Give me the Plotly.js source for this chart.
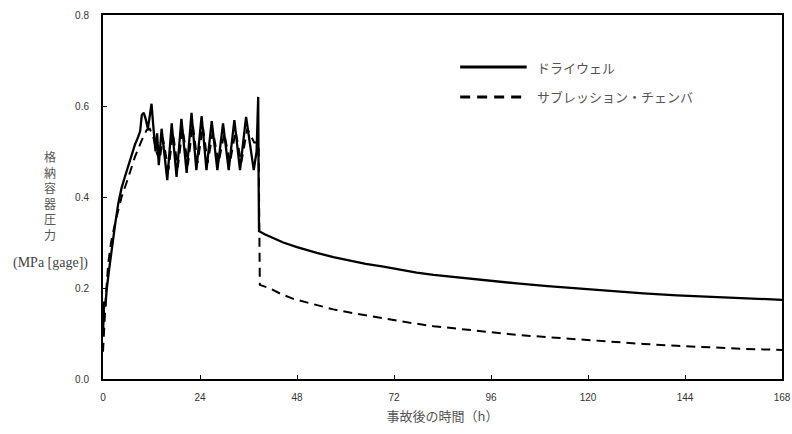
<!DOCTYPE html>
<html>
<head>
<meta charset="utf-8">
<script src="https://cdn.plot.ly/plotly-3.0.1.min.js"></script>
<style>html,body{margin:0;padding:0;background:#fff;}#chart{width:792px;height:434px;}</style>
</head>
<body>
<div id="chart"></div>
<script>
// Drywell (solid)
const timeDW = [0, 0.3, 0.6, 0.9, 1.5, 2.1, 3.0, 3.8, 4.6, 5.4, 6.3, 7.1, 7.9, 8.7, 9.2, 9.6, 10.1, 10.6, 11.1, 11.6, 12.0, 12.5, 13.0, 13.4, 13.8, 14.5,
  15.9, 17.0, 18.2, 19.4, 20.7, 21.9, 23.1, 24.4, 25.6, 26.9, 28.3, 29.7, 31.1, 32.5, 33.9, 35.4, 37.3, 38.0, 38.4, 38.5, 38.6,
  40.0, 42.6, 44.6, 48.0, 52.9, 57.0, 61.1, 65.0, 69.4, 73.5, 77.6, 81.8, 85.9, 90.0, 94.1, 102.4, 110.0, 117.2, 125.0, 133.7, 142.0, 150.2, 159.0, 168];
const pressureDW = [0.10, 0.17, 0.16, 0.196, 0.24, 0.283, 0.34, 0.387, 0.42, 0.444, 0.47, 0.497, 0.515, 0.532, 0.545, 0.58, 0.585, 0.57, 0.55, 0.58, 0.605, 0.55, 0.50, 0.54, 0.47, 0.55,
  0.437, 0.562, 0.444, 0.572, 0.453, 0.585, 0.459, 0.578, 0.459, 0.567, 0.459, 0.562, 0.459, 0.569, 0.459, 0.576, 0.459, 0.50, 0.62, 0.45, 0.325,
  0.318, 0.308, 0.300, 0.290, 0.277, 0.268, 0.260, 0.253, 0.247, 0.240, 0.234, 0.229, 0.225, 0.221, 0.218, 0.210, 0.204, 0.199, 0.194, 0.188, 0.184, 0.181, 0.177, 0.174];

// Suppression chamber (dashed)
const timeSC = [0, 0.3, 0.7, 1.3, 2.0, 3.0, 4.6, 6.3, 7.9, 9.6, 10.8, 11.6, 12.5, 13.2, 14.0, 14.8,
  16.2, 17.3, 18.5, 19.7, 21.0, 22.2, 23.4, 24.7, 25.9, 27.2, 28.6, 30.0, 31.4, 32.8, 34.2, 35.7, 37.4, 38.5, 38.6, 38.8,
  41.3, 44.0, 47.1, 52.0, 57.0, 63.0, 69.4, 75.6, 81.8, 88.0, 94.1, 102.4, 110.0, 117.2, 125.0, 133.7, 142.0, 150.2, 159.0, 168];
const pressureSC = [0.06, 0.12, 0.18, 0.255, 0.30, 0.343, 0.40, 0.444, 0.488, 0.525, 0.547, 0.55, 0.53, 0.50, 0.48, 0.53,
  0.46, 0.54, 0.465, 0.55, 0.47, 0.56, 0.475, 0.555, 0.475, 0.545, 0.475, 0.54, 0.475, 0.545, 0.475, 0.55, 0.52, 0.52, 0.305, 0.207,
  0.199, 0.187, 0.176, 0.164, 0.153, 0.143, 0.133, 0.124, 0.116, 0.110, 0.104, 0.097, 0.092, 0.087, 0.082, 0.077, 0.073, 0.069, 0.066, 0.064];

const seriesNames = ["ドライウェル", "サブレッション・チェンバ"];
const xTicks = [0, 24, 48, 72, 96, 120, 144, 168];
const yTicks = [0.0, 0.2, 0.4, 0.6, 0.8];
const yTitleChars = ["格", "納", "容", "器", "圧", "力"];
const yTitleUnit = "(MPa [gage])";
const xTitle = "事故後の時間（h）";

const traces = [
  {x: timeSC, y: pressureSC, type: "scatter", mode: "lines", name: seriesNames[1], showlegend: false,
   line: {color: "#000", width: 2, dash: "9px,6px"}},
  {x: timeDW, y: pressureDW, type: "scatter", mode: "lines", name: seriesNames[0], showlegend: false,
   line: {color: "#000", width: 2.3}}
];

const tickFont = {family: "Liberation Sans Narrow, Liberation Sans, Arial", size: 10, color: "#333"};
const textFont = {family: "Noto Sans CJK JP", size: 13, color: "#555"};

const layout = {
  width: 792, height: 434,
  margin: {l: 103, r: 10, t: 15, b: 55},
  paper_bgcolor: "#fff", plot_bgcolor: "#fff",
  showlegend: false,
  xaxis: {range: [0, 168], tickvals: xTicks, ticktext: xTicks.map(String), ticks: "inside", ticklen: 4,
    tickcolor: "#000", showline: true, linecolor: "#000", linewidth: 2, mirror: true, showgrid: false,
    zeroline: false, tickfont: tickFont, ticklabelstandoff: 8,
    title: {text: xTitle, font: textFont, standoff: 10}},
  yaxis: {range: [0, 0.8], tickvals: yTicks, ticktext: yTicks.map(v => v.toFixed(1)), ticks: "inside", ticklen: 4,
    tickcolor: "#000", showline: true, linecolor: "#000", linewidth: 2, mirror: true, showgrid: false,
    zeroline: false, tickfont: tickFont, ticklabelstandoff: 10},
  shapes: [
    {type: "line", xref: "paper", yref: "paper", x0: 0.526, x1: 0.624, y0: 0.857, y1: 0.857, line: {color: "#000", width: 3}},
    {type: "line", xref: "paper", yref: "paper", x0: 0.526, x1: 0.624, y0: 0.775, y1: 0.775, line: {color: "#000", width: 3, dash: "10px,7px"}}
  ],
  annotations: [
    {xref: "paper", yref: "paper", x: 0.636, y: 0.857, xanchor: "left", yanchor: "middle", text: seriesNames[0], showarrow: false, font: textFont},
    {xref: "paper", yref: "paper", x: 0.636, y: 0.775, xanchor: "left", yanchor: "middle", text: seriesNames[1], showarrow: false, font: textFont},
    {xref: "paper", yref: "paper", x: -0.078, y: 0.505, xanchor: "center", yanchor: "middle", text: yTitleChars.join("<br>"), showarrow: false,
     font: {family: "Noto Sans CJK JP", size: 12, color: "#555"}},
    {xref: "paper", yref: "paper", x: -0.078, y: 0.318, xanchor: "center", yanchor: "middle", text: yTitleUnit, showarrow: false,
     font: {family: "Liberation Serif, DejaVu Serif", size: 14, color: "#444"}}
  ]
};

Plotly.newPlot("chart", traces, layout, {staticPlot: true, displayModeBar: false});
</script>
</body>
</html>
